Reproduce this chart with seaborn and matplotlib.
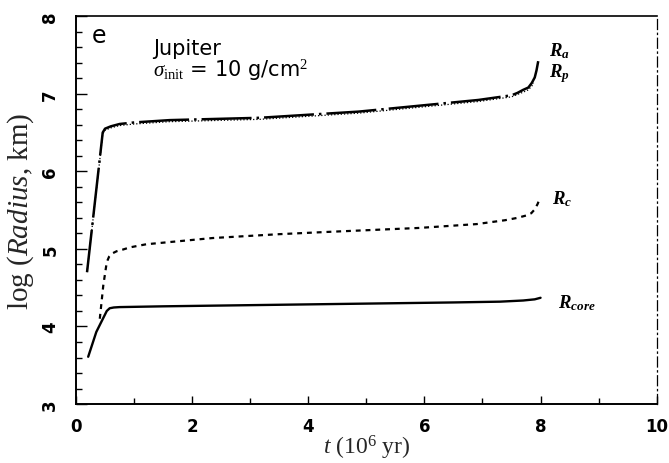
import matplotlib
matplotlib.use("Agg")
import matplotlib.pyplot as plt
from matplotlib.ticker import MultipleLocator
import numpy as np
import pandas as pd
import seaborn as sns

# Radii of the accreting Jupiter model versus time (t in Myr, log radius in km)
t_core = [0.21, 0.35, 0.53, 0.58, 0.65, 0.75, 1.5, 2.5, 3.5, 4.5, 5.5, 6.5,
          7.3, 7.7, 7.9, 8.0]
r_core = [3.61, 3.93, 4.20, 4.235, 4.245, 4.25, 4.26, 4.27, 4.28, 4.29, 4.30,
          4.31, 4.32, 4.335, 4.35, 4.37]

t_c = [0.41, 0.47, 0.53, 0.57, 0.62, 0.70, 0.80, 0.93, 1.21, 1.78, 2.35, 3.5,
       4.36, 5.9, 6.9, 7.39, 7.6, 7.75, 7.84, 7.9, 7.95, 7.99]
r_c = [4.10, 4.53, 4.83, 4.90, 4.94, 4.97, 4.99, 5.02, 5.06, 5.10, 5.14, 5.19,
       5.22, 5.27, 5.32, 5.37, 5.40, 5.43, 5.46, 5.51, 5.58, 5.66]

t_a = [0.19, 0.46, 0.50, 0.60, 0.75, 1.0, 1.61, 3.16, 4.87, 6.93, 7.5, 7.6,
       7.7, 7.79, 7.85, 7.9, 7.93, 7.96]
r_a = [4.70, 6.50, 6.55, 6.58, 6.61, 6.63, 6.66, 6.69, 6.77, 6.92, 6.98, 7.01,
       7.05, 7.08, 7.14, 7.21, 7.30, 7.42]

t_p = [0.19, 0.46, 0.50, 0.60, 0.75, 1.0, 1.61, 3.16, 4.87, 6.93, 7.5, 7.6,
       7.7, 7.79, 7.85, 7.88]
r_p = [4.70, 6.48, 6.53, 6.56, 6.59, 6.61, 6.64, 6.67, 6.75, 6.90, 6.96, 6.99,
       7.02, 7.05, 7.10, 7.14]

x_ticks = [0, 2, 4, 6, 8, 10]
y_ticks = [3, 4, 5, 6, 7, 8]

sns.set_theme(style="ticks")
plt.rcParams.update({
    "font.family": ["DejaVu Sans"],
    "mathtext.fontset": "custom",
    "mathtext.rm": "Liberation Serif",
    "mathtext.it": "Liberation Serif:italic",
    "mathtext.bf": "Liberation Serif:italic:bold",
    "axes.edgecolor": "black",
    "text.color": "black",
    "xtick.color": "black",
    "ytick.color": "black",
})

fig = plt.figure(figsize=(6.69, 4.64), dpi=100)
ax = fig.add_axes([0.1136, 0.127, 0.868, 0.836])

series = [
    (t_a, r_a, (3, (20, 2, 1, 2)), 1.8),
    (t_p, r_p, (0, (1, 1.6)), 0.9),
    (t_c, r_c, (0, (2.2, 2.2)), 1.6),
    (t_core, r_core, "-", 1.7),
]
for t, r, ls, lw in series:
    df = pd.DataFrame({"t": t, "r": r})
    sns.lineplot(data=df, x="t", y="r", ax=ax, color="black",
                 linestyle=ls, linewidth=lw, sort=False, estimator=None)

ax.set_xlim(0, 10)
ax.set_ylim(3, 8)
ax.set_xticks(x_ticks)
ax.set_yticks(y_ticks)
ax.xaxis.set_minor_locator(MultipleLocator(1))
ax.yaxis.set_minor_locator(MultipleLocator(0.2))
ax.tick_params(which="both", direction="in", top=False, right=False, width=1.0)
ax.tick_params(axis="y", which="major", length=8)
ax.tick_params(axis="y", which="minor", length=4)
ax.tick_params(axis="x", which="major", length=6)
ax.tick_params(axis="x", which="minor", length=4)
ax.tick_params(axis="x", pad=9, labelsize=12)
ax.tick_params(axis="y", pad=12, labelsize=12)
for lab in ax.get_xticklabels():
    lab.set_fontweight("bold")
for lab in ax.get_yticklabels():
    lab.set_fontweight("bold")
    lab.set_rotation(90)
    lab.set_va("center")

for side in ["left", "bottom"]:
    ax.spines[side].set_linewidth(1.4)
ax.spines["top"].set_linewidth(1.2)
ax.spines["right"].set_linewidth(0.9)
ax.spines["right"].set_linestyle((0, (8, 3, 1, 3)))

ax.set_xlabel(r"$t$ (10$^6$ yr)", fontsize=17, family="Liberation Serif", labelpad=-1)
ax.set_ylabel(r"log ($Radius$, km)", fontsize=21, family="Liberation Serif", labelpad=4)

ax.text(0.39, 7.76, "e", fontsize=17, ha="center", va="center")
ax.text(1.32, 7.51, "Jupiter", fontsize=15, va="baseline")
ax.text(1.32, 7.23, r"$\sigma_{\rm init}$ = 10 g/cm$^2$", fontsize=15, va="baseline")

ax.text(8.14, 7.56, r"$\mathbf{R}_{\mathbf{a}}$", fontsize=13.5, va="center")
ax.text(8.14, 7.27, r"$\mathbf{R}_{\mathbf{p}}$", fontsize=13.5, va="center")
ax.text(8.2, 5.66, r"$\mathbf{R}_{\mathbf{c}}$", fontsize=13.5, va="center")
ax.text(8.3, 4.31, r"$\mathbf{R}_{\mathbf{core}}$", fontsize=13.5, va="center")

ax.legend_ = None
fig.savefig("out.png", dpi=100)
